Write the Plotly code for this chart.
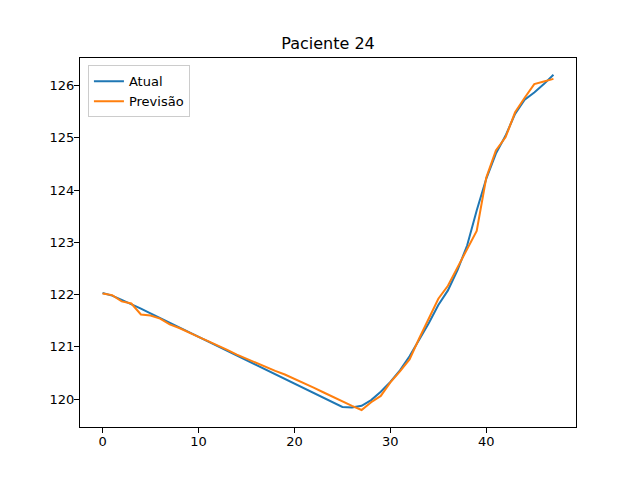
import plotly.graph_objects as go

# passo de tempo
passos = list(range(48))

atual = [122.03, 121.98, 121.90, 121.82, 121.73, 121.64, 121.55, 121.46, 121.37, 121.28,
         121.19, 121.10, 121.01, 120.93, 120.84, 120.75, 120.66, 120.57, 120.48, 120.39,
         120.30, 120.21, 120.12, 120.03, 119.94, 119.85, 119.84, 119.87, 119.98, 120.14,
         120.33, 120.55, 120.82, 121.13, 121.45, 121.80, 122.08, 122.47, 122.94, 123.61,
         124.22, 124.70, 125.04, 125.46, 125.73, 125.87, 126.03, 126.21]

previsao = [122.02, 121.99, 121.87, 121.83, 121.62, 121.60, 121.54, 121.43, 121.36, 121.27,
            121.19, 121.11, 121.03, 120.94, 120.85, 120.77, 120.69, 120.62, 120.54, 120.47,
            120.39, 120.31, 120.22, 120.13, 120.04, 119.96, 119.87, 119.79, 119.94, 120.06,
            120.32, 120.53, 120.76, 121.16, 121.55, 121.92, 122.17, 122.52, 122.88, 123.22,
            124.24, 124.76, 125.01, 125.49, 125.77, 126.03, 126.08, 126.13]

fig = go.Figure()
fig.add_trace(go.Scatter(x=passos, y=atual, mode='lines', name='Atual',
                         line=dict(color='#1f77b4', width=2)))
fig.add_trace(go.Scatter(x=passos, y=previsao, mode='lines', name='Previsão',
                         line=dict(color='#ff7f0e', width=2)))

eixo = dict(showgrid=False, zeroline=False, showline=True, linecolor='black', linewidth=1,
            mirror=True, ticks='outside', ticklen=5, tickcolor='black',
            tickfont=dict(size=13, color='black'), ticklabelstandoff=-3)

# a pagina desloca a figura 8px, por isso as margens compensam
fig.update_layout(
    width=640, height=480,
    font=dict(family='DejaVu Sans', color='black'),
    title=dict(text='Paciente 24', x=0.5, xanchor='center', y=0.927, yanchor='middle',
               font=dict(size=16)),
    paper_bgcolor='white', plot_bgcolor='white',
    margin=dict(l=72, r=72, t=50, b=61),
    xaxis=dict(range=[-2.35, 49.35], tickvals=[0, 10, 20, 30, 40], **eixo),
    yaxis=dict(range=[119.465, 126.53], tickvals=[120, 121, 122, 123, 124, 125, 126], **eixo),
    legend=dict(x=0.016, y=0.98, xanchor='left', yanchor='top',
                bordercolor='#cccccc', borderwidth=1, bgcolor='white',
                font=dict(size=13), tracegroupgap=0),
    showlegend=True,
)

fig.write_html("out.html")
